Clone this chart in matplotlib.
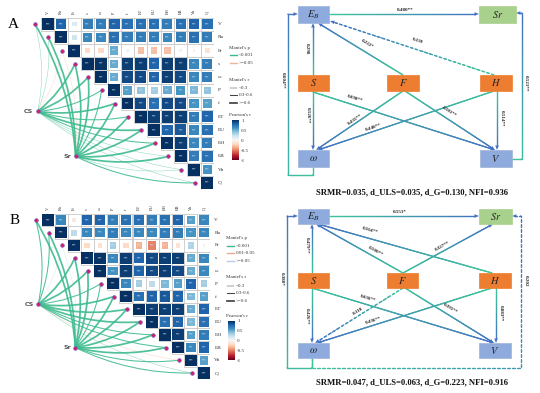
import numpy as np
import matplotlib
matplotlib.use("Agg")
import matplotlib.pyplot as plt
import matplotlib.colors as mcolors
from matplotlib.patches import Rectangle, FancyArrowPatch, Polygon
from matplotlib.collections import LineCollection
from matplotlib.cm import ScalarMappable

plt.rcParams['font.family'] = ['Liberation Serif', 'DejaVu Serif']
plt.rcParams['mathtext.fontset'] = 'stix'

# ------------------------------------------------------------------ data
variables = ["V", "Ro", "Fr", "s", "ω", "P", "f", "ET", "EU", "EH", "EB", "Vh", "Q"]

# upper triangle (row i starts at the diagonal)
pearson_A = [
    [1, 0.80, 0.15, 0.70, 0.70, 0.80, 0.75, 0.75, 0.75, 0.70, 0.75, 0.80, 0.75],
    [1, 0.20, 0.65, 0.65, 0.75, 0.70, 0.70, 0.70, 0.65, 0.70, 0.75, 0.70],
    [1, -0.20, -0.20, 0.50, 0.05, -0.30, -0.30, -0.30, 0.05, -0.05, -0.15],
    [1, 0.98, 0.50, 0.95, 0.95, 0.80, 0.95, 0.95, 0.65, 0.70],
    [1, 0.50, 0.90, 0.90, 0.80, 0.95, 0.90, 0.65, 0.70],
    [1, 0.55, 0.40, 0.35, 0.50, 0.60, 0.45, 0.40],
    [1, 0.90, 0.75, 0.90, 0.90, 0.60, 0.55],
    [1, 0.95, 0.95, 0.95, 0.70, 0.80],
    [1, 0.80, 0.85, 0.65, 0.75],
    [1, 0.95, 0.65, 0.70],
    [1, 0.70, 0.75],
    [1, 0.60],
    [1],
]
pearson_B = [
    [1, 0.65, -0.10, 0.80, 0.80, 0.70, 0.75, 0.75, 0.70, 0.75, 0.80, 0.55, 0.65],
    [1, 0.25, 0.65, 0.65, 0.70, 0.65, 0.65, 0.65, 0.70, 0.70, 0.60, 0.65],
    [1, -0.20, -0.15, 0.35, -0.20, -0.35, -0.50, -0.35, -0.15, 0.30, -0.05],
    [1, 0.98, 0.65, 0.95, 0.80, 0.90, 0.95, 0.95, 0.50, 0.65],
    [1, 0.60, 0.95, 0.80, 0.90, 0.95, 0.90, 0.50, 0.65],
    [1, 0.65, 0.35, 0.25, 0.45, 0.55, 0.80, 0.35],
    [1, 0.75, 0.80, 0.85, 0.80, 0.45, 0.55],
    [1, 0.95, 0.95, 0.95, 0.50, 0.80],
    [1, 0.75, 0.80, 0.45, 0.75],
    [1, 0.95, 0.55, 0.70],
    [1, 0.65, 0.80],
    [1, 0.55],
    [1],
]

# Mantel categories: p index into legend classes, r: 0 "<0.3", 1 "0.3-0.6", 2 ">=0.6"
mantel_p_labels_A = ["<0.001", ">=0.05"]
cs_p_A = [0, 0, 1, 0, 0, 0, 0, 0, 0, 0, 0, 0, 0]
cs_r_A = [0, 0, 0, 2, 2, 1, 2, 1, 2, 1, 0, 0, 0]
sr_p_A = [0, 0, 1, 0, 0, 0, 0, 0, 0, 0, 0, 0, 0]
sr_r_A = [2, 2, 0, 2, 2, 1, 2, 2, 2, 2, 2, 0, 1]

mantel_p_labels_B = ["<0.001", "0.01-0.05", ">=0.05"]
cs_p_B = [0, 0, 2, 0, 0, 0, 0, 0, 0, 0, 0, 1, 0]
cs_r_B = [1, 1, 0, 2, 2, 1, 2, 2, 2, 1, 1, 0, 0]
sr_p_B = [0, 0, 2, 0, 0, 0, 0, 0, 0, 0, 0, 0, 0]
sr_r_B = [2, 2, 0, 2, 2, 1, 2, 2, 2, 2, 2, 1, 1]
mantel_r_labels = ["<0.3", "0.3-0.6", ">=0.6"]

sem_coef_A = ["0.480**", "0.139", "0.222*", "0.298", "0.604**", "0.521**",
              "0.526**", "0.698**", "0.435**", "0.581**", "0.448**", "0.514**"]
sem_coef_B = ["0.551*", "0.564**", "0.500**", "0.327**", "0.479**", "0.380*", "0.202",
              "0.426**", "0.636**", "0.118", "0.395**", "0.436**", "0.883**"]
fit_A = "SRMR=0.035, d_ULS=0.035, d_G=0.130, NFI=0.936"
fit_B = "SRMR=0.047, d_ULS=0.063, d_G=0.223, NFI=0.916"

# ------------------------------------------------------------------ figure
W, H = 540, 393
fig = plt.figure(figsize=(W / 100, H / 100), dpi=100)
canvas = fig.add_axes([0, 0, 1, 1])
canvas.set_xlim(0, W)
canvas.set_ylim(H, 0)
canvas.axis('off')

def frect(x0, y0, x1, y1):
    return [x0 / W, 1 - y1 / H, (x1 - x0) / W, (y1 - y0) / H]

cmap = plt.get_cmap('RdBu')
norm = mcolors.Normalize(-1, 1)
P_COLORS = {"<0.001": "#3DBB8E", ">=0.05": "#F0B49A", "0.01-0.05": "#F0B49A"}
P_COLORS_B = {"<0.001": "#3DBB8E", "0.01-0.05": "#EFA98C", ">=0.05": "#B9CBE4"}
R_WIDTH = [0.35, 0.75, 1.25]

def draw_corr(rect, mat, cs_p, cs_r, sr_p, sr_r, p_labels, pcol):
    ax = fig.add_axes(rect)
    n = len(variables)
    ax.set_xlim(-0.5, n - 0.5)
    ax.set_ylim(n - 0.5, -0.5)
    ax.axis('off')
    for i in range(n):
        for k, r in enumerate(mat[i]):
            j = i + k
            ax.add_patch(Rectangle((j - 0.5, i - 0.5), 1, 1, fc='white', ec='#C9C9C9', lw=0.6, zorder=1))
            side = 0.9 * np.sqrt(abs(r))
            ax.add_patch(Rectangle((j - side / 2, i - side / 2), side, side,
                                   fc=cmap(norm(r)), ec='none', zorder=2))
            if abs(r) >= 0.3:
                ax.text(j, i, "***", fontsize=2.2, color='#D8E2EE', ha='center', va='center', zorder=3)
        ax.text(n - 0.5 + 0.3, i, variables[i], fontsize=3.8, ha='left', va='center', color='#333333')
        ax.text(i, -0.5 - 0.25, variables[i], fontsize=3.2, ha='center', va='bottom', rotation=90, color='#333333')
    hubs = {"CS": ((-0.75, 6.6), cs_p, cs_r), "Sr": ((2.1, 10.0), sr_p, sr_r)}
    for name, ((hx, hy), pp, rr) in hubs.items():
        for i in range(n):
            tx, ty = i - 0.95, i
            lab = p_labels[pp[i]]
            col = pcol[lab]
            ls = '-' if pp[i] == 0 else (0, (2, 1.2))
            alpha = 0.9 if rr[i] > 0 else 0.6
            patch = FancyArrowPatch((hx, hy), (tx, ty), connectionstyle="arc3,rad=0.12",
                                    arrowstyle='-', lw=R_WIDTH[rr[i]], color=col, alpha=alpha,
                                    linestyle=ls, shrinkA=0, shrinkB=0, clip_on=False, zorder=4)
            ax.add_patch(patch)
        ax.plot([hx], [hy], 'o', ms=2.6, mfc='#D81B60', mec='#7E57C2', mew=0.5, clip_on=False, zorder=6)
        ax.text(hx - 0.35, hy, name, fontsize=4.5, ha='right', va='center', color='#555555',
                family='DejaVu Sans', fontweight='bold')
    for i in range(n):
        ax.plot([i - 0.95], [i], 'o', ms=2.6, mfc='#D81B60', mec='#7E57C2', mew=0.5, clip_on=False, zorder=6)
    return ax

def draw_legend(x, y_pt, y_p, p_labels, pcol, y_rt, y_r, y_ct, cb_rect):
    fs = 3.6
    canvas.text(x, y_pt, "Mantel's p", fontsize=fs, va='center', color='#333333')
    for yy, lab in zip(y_p, p_labels):
        canvas.plot([x + 1, x + 8], [yy, yy], color=pcol[lab], lw=1.0)
        canvas.text(x + 10, yy, lab, fontsize=fs, va='center', color='#333333')
    canvas.text(x, y_rt, "Mantel's r", fontsize=fs, va='center', color='#333333')
    for yy, lab, lw in zip(y_r, mantel_r_labels, R_WIDTH):
        canvas.plot([x + 1, x + 8], [yy, yy], color='#444444', lw=lw)
        canvas.text(x + 10, yy, lab, fontsize=fs, va='center', color='#333333')
    canvas.text(x, y_ct, "Pearson's r", fontsize=fs, va='center', color='#333333')
    cax = fig.add_axes(frect(*cb_rect))
    cb = fig.colorbar(ScalarMappable(norm=norm, cmap=cmap), cax=cax, ticks=[-1, -0.5, 0, 0.5, 1])
    cb.ax.set_yticklabels(["-1", "-0.5", "0", "0.5", "1"])
    cb.ax.tick_params(labelsize=fs, length=0, pad=1.5, colors='#333333')
    cb.outline.set_visible(False)

draw_corr(frect(41, 17.5, 214, 189.5), pearson_A, cs_p_A, cs_r_A, sr_p_A, sr_r_A, mantel_p_labels_A, P_COLORS)
draw_corr(frect(41.5, 213.6, 210.5, 379.4), pearson_B, cs_p_B, cs_r_B, sr_p_B, sr_r_B, mantel_p_labels_B, P_COLORS_B)
draw_legend(229, 48, [55, 63], mantel_p_labels_A, P_COLORS, 80, [88, 95, 103], 115, (232, 120, 239, 160))
draw_legend(226, 238, [246, 253, 261], mantel_p_labels_B, P_COLORS_B, 277, [286, 293, 301], 316, (228, 321, 235, 360))

canvas.text(13, 24, "A", fontsize=11, ha='center', va='center')
canvas.text(15, 221, "B", fontsize=11, ha='center', va='center')

# ------------------------------------------------------------------ SEM diagrams
GREEN = np.array(mcolors.to_rgb("#3CC79A"))
BLUE = np.array(mcolors.to_rgb("#4472C4"))
BOX_BLUE, BOX_GREEN, BOX_ORANGE = "#8FAADC", "#A9D18E", "#ED7D31"
box_text = {"EB": r"$E_B$", "Sr": r"$Sr$", "S": r"$S$", "F": r"$F$", "H": r"$H$", "w": r"$\omega$", "V": r"$V$"}
box_col = {"EB": BOX_BLUE, "Sr": BOX_GREEN, "S": BOX_ORANGE, "F": BOX_ORANGE, "H": BOX_ORANGE,
           "w": BOX_BLUE, "V": BOX_BLUE}

def draw_boxes(boxes):
    for k, (x0, y0, x1, y1) in boxes.items():
        canvas.add_patch(Rectangle((x0, y0), x1 - x0, y1 - y0, fc=box_col[k], ec='#A0B4DA' if box_col[k] == BOX_BLUE else box_col[k],
                                   lw=0.5, zorder=5))
        canvas.text((x0 + x1) / 2, (y0 + y1) / 2, box_text[k], fontsize=7.5, ha='center', va='center',
                    color='#222222', zorder=6)

def gradient_path(pts, dashed=False, lw=0.95):
    pts = np.array(pts, float)
    seg = np.hypot(*np.diff(pts, axis=0).T)
    cum = np.concatenate([[0], np.cumsum(seg)])
    total = cum[-1]
    ah = 4.5
    d = pts[-1] - pts[-2]
    d = d / np.hypot(*d)
    end_line = total - ah * 0.8
    s = np.linspace(0, end_line, max(int(end_line / 0.7), 2))
    xs = np.interp(s, cum, pts[:, 0])
    ys = np.interp(s, cum, pts[:, 1])
    segs, cols = [], []
    for a in range(len(s) - 1):
        sm = 0.5 * (s[a] + s[a + 1])
        if dashed and (sm % 5.0) > 3.0:
            continue
        t = sm / total
        segs.append([(xs[a], ys[a]), (xs[a + 1], ys[a + 1])])
        cols.append(tuple(GREEN * (1 - t) + BLUE * t))
    canvas.add_collection(LineCollection(segs, colors=cols, linewidths=lw, capstyle='round', zorder=3))
    tip = pts[-1]
    base = tip - d * ah
    nrm = np.array([-d[1], d[0]])
    canvas.add_patch(Polygon([tip, base + nrm * 1.8, base - nrm * 1.8], closed=True, fc=tuple(BLUE), ec='none', zorder=4))

def label_on(text, pos, pts):
    p = np.array(pts, float)
    best, ang = 1e9, 0
    for a in range(len(p) - 1):
        mid = (p[a] + p[a + 1]) / 2
        dist = np.hypot(*(mid - np.array(pos)))
        if dist < best:
            best = dist
            dx, dy = p[a + 1] - p[a]
            ang = np.degrees(np.arctan2(-dy, dx))
    if abs(abs(ang) - 90) < 1:
        ang = -90
    else:
        if ang > 90:
            ang -= 180
        if ang <= -90:
            ang += 180
    canvas.text(pos[0], pos[1], text, fontsize=3.6, fontweight='bold', rotation=ang,
                rotation_mode='anchor', ha='center', va='center', color='#222222', zorder=7)

boxes_A = {"EB": (298, 6, 329, 23), "Sr": (479, 6, 516, 23), "S": (298, 75, 329, 91),
           "F": (387, 75, 419, 91), "H": (480, 75, 512, 91), "w": (298, 150, 329, 167), "V": (480, 150, 512, 167)}
paths_A = [
    ([(329, 14), (479, 14)], False, (405, 10)),
    ([(494, 75), (330, 21)], True, (417, 41)),
    ([(403, 75), (318, 23)], False, (367, 44)),
    ([(313, 75), (313, 23)], False, (307, 49)),
    ([(313, 167), (313, 175), (288, 175), (288, 14), (298, 14)], False, (283, 80)),
    ([(512, 159), (522, 159), (522, 13), (516, 13)], False, (526, 83)),
    ([(313, 91), (313, 150)], False, (308, 115)),
    ([(313, 92), (495, 150)], False, (355, 99)),
    ([(403, 91), (316, 150)], False, (355, 120)),
    ([(405, 91), (495, 150)], False, (449, 112)),
    ([(494, 91), (318, 150)], False, (373, 127)),
    ([(497, 91), (497, 150)], False, (502, 118)),
]
boxes_B = {"EB": (298, 209, 329, 224), "Sr": (479, 209, 512, 224), "S": (298, 273, 329, 288),
           "F": (387, 273, 418, 288), "H": (479, 273, 511, 288), "w": (298, 343, 329, 358), "V": (479, 343, 511, 358)}
paths_B = [
    ([(329, 216), (479, 216)], False, (400, 212)),
    ([(492, 273), (318, 224)], False, (370, 230)),
    ([(403, 273), (316, 224)], False, (375, 251)),
    ([(403, 273), (493, 224)], False, (442, 246)),
    ([(312, 273), (312, 224)], False, (307, 245)),
    ([(312, 358), (312, 368), (287, 368), (287, 216), (298, 216)], False, (282, 279)),
    ([(312, 358), (312, 368), (521, 368), (521, 216), (512, 216)], True, (526, 281)),
    ([(312, 288), (312, 343)], False, (307, 316)),
    ([(312, 288), (494, 343)], False, (368, 298)),
    ([(403, 288), (315, 343)], True, (358, 311)),
    ([(405, 288), (494, 343)], False, (450, 308)),
    ([(492, 288), (317, 343)], False, (373, 321)),
    ([(496, 288), (496, 343)], False, (501, 313)),
]

for boxes, paths, coefs, fit, fy in [(boxes_A, paths_A, sem_coef_A, fit_A, 192),
                                      (boxes_B, paths_B, sem_coef_B, fit_B, 382)]:
    for (pts, dashed, lpos), c in zip(paths, coefs):
        gradient_path(pts, dashed)
        label_on(c, lpos, pts)
    draw_boxes(boxes)
    canvas.text(412, fy, fit, fontsize=6.2, fontweight='bold', ha='center', va='center', color='#111111')

fig.savefig("out.png", dpi=100)
